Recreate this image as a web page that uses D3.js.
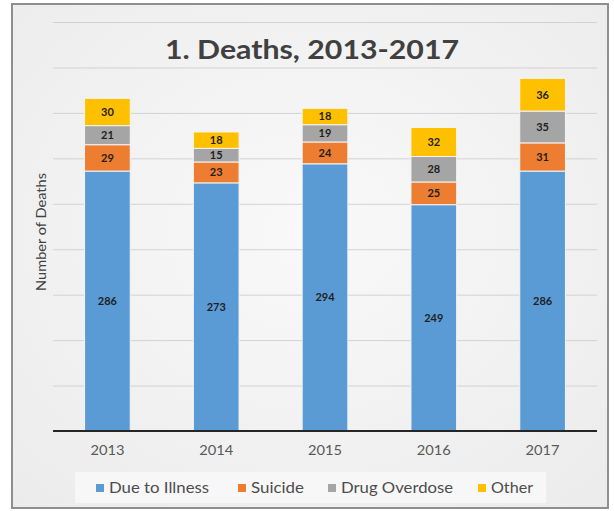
<!DOCTYPE html>
<html>
<head>
<meta charset="utf-8">
<script src="https://cdn.jsdelivr.net/npm/d3@7"></script>
<style>
  html, body { margin: 0; padding: 0; background: #ffffff; }
  svg { display: block; font-family: Lato, "Open Sans", sans-serif; }
</style>
</head>
<body>
<svg id="chart" width="614" height="511"></svg>
<script>
// Deaths per year, split by cause
const years = ["2013", "2014", "2015", "2016", "2017"];
const causes = ["Due to Illness", "Suicide", "Drug Overdose", "Other"];
const illness = [286, 273, 294, 249, 286];
const suicide = [29, 23, 24, 25, 31];
const overdose = [21, 15, 19, 28, 35];
const other = [30, 18, 18, 32, 36];
const yTicks = [0, 50, 100, 150, 200, 250, 300, 350, 400, 450];
const colors = ["#5b9bd5", "#ed7d31", "#a5a5a5", "#ffc000"];

const rows = years.map((y, i) => ({
  year: y,
  "Due to Illness": illness[i],
  "Suicide": suicide[i],
  "Drug Overdose": overdose[i],
  "Other": other[i]
}));

const svg = d3.select("#chart");

// frame and background
const defs = svg.append("defs");
const grad = defs.append("radialGradient").attr("id", "bg")
  .attr("cx", "50%").attr("cy", "45%").attr("r", "75%");
grad.append("stop").attr("offset", "0%").attr("stop-color", "#f9f9f9");
grad.append("stop").attr("offset", "100%").attr("stop-color", "#ebebeb");

svg.append("rect").attr("x", 12).attr("y", 4).attr("width", 596).attr("height", 504)
  .attr("fill", "url(#bg)").attr("stroke", "#8f8f8f").attr("stroke-width", 2);

const plot = { left: 53, right: 597, top: 22, bottom: 431 };

const x = d3.scaleBand().domain(years).range([plot.left, plot.right]).paddingInner(0.58).paddingOuter(0.29);
const y = d3.scaleLinear().domain([0, 450]).range([plot.bottom, plot.top]);

// gridlines
svg.append("g")
  .attr("transform", `translate(${plot.left},0)`)
  .call(d3.axisLeft(y).tickValues(yTicks.filter(t => t > 0)).tickSize(-(plot.right - plot.left)).tickFormat(""))
  .call(g => g.select(".domain").remove())
  .call(g => g.selectAll(".tick line").attr("stroke", "#d2d2d2").attr("stroke-width", 1));

// title
svg.append("text").attr("x", 312).attr("y", 59).attr("text-anchor", "middle")
  .attr("font-size", 27).attr("font-weight", "bold").attr("fill", "#404040")
  .attr("textLength", 294).attr("lengthAdjust", "spacingAndGlyphs")
  .text("1. Deaths, 2013-2017");

// stacked bars
const series = d3.stack().keys(causes)(rows);
const layer = svg.append("g").selectAll("g").data(series).join("g")
  .attr("fill", (d, i) => colors[i]);
layer.selectAll("rect").data(d => d).join("rect")
  .attr("x", d => x(d.data.year))
  .attr("width", x.bandwidth())
  .attr("y", d => y(d[1]))
  .attr("height", d => y(d[0]) - y(d[1]))
  .attr("stroke", "#f4f4f4").attr("stroke-width", 1);

// segment value labels
layer.selectAll("text").data(d => d).join("text")
  .attr("x", d => x(d.data.year) + x.bandwidth() / 2)
  .attr("y", d => (y(d[0]) + y(d[1])) / 2)
  .attr("dy", "0.35em")
  .attr("text-anchor", "middle")
  .attr("font-size", 11).attr("font-weight", "bold").attr("fill", "#1f1f1f")
  .text(d => d[1] - d[0]);

// x axis
const xAxis = svg.append("g").attr("transform", `translate(0,${plot.bottom})`)
  .call(d3.axisBottom(x).tickSize(0).tickPadding(14));
xAxis.select(".domain").attr("stroke", "#262626").attr("stroke-width", 2)
  .attr("d", `M${plot.left},0H${plot.right}`);
xAxis.selectAll("text").attr("font-size", 14).attr("fill", "#595959")
  .attr("font-family", "Lato, 'Open Sans', sans-serif")
  .attr("textLength", 34).attr("lengthAdjust", "spacingAndGlyphs");

// y axis title
svg.append("text").attr("transform", "translate(46,232) rotate(-90)")
  .attr("text-anchor", "middle").attr("font-size", 13).attr("fill", "#404040")
  .attr("textLength", 118).attr("lengthAdjust", "spacingAndGlyphs")
  .text("Number of Deaths");

// legend
svg.append("rect").attr("x", 75).attr("y", 472).attr("width", 471).attr("height", 31)
  .attr("fill", "#f7f7f7");
const legendX = [96, 238, 328, 478];
const legendW = [100, 53, 112, 42];
const lg = svg.append("g").selectAll("g").data(causes).join("g")
  .attr("transform", (d, i) => `translate(${legendX[i]},488)`);
lg.append("rect").attr("x", 0).attr("y", -4).attr("width", 8).attr("height", 8)
  .attr("fill", (d, i) => colors[i]);
lg.append("text").attr("x", 13).attr("y", 0).attr("dy", "0.36em")
  .attr("font-size", 15).attr("fill", "#4d4d4d")
  .attr("textLength", (d, i) => legendW[i]).attr("lengthAdjust", "spacingAndGlyphs")
  .text(d => d);
</script>
</body>
</html>
